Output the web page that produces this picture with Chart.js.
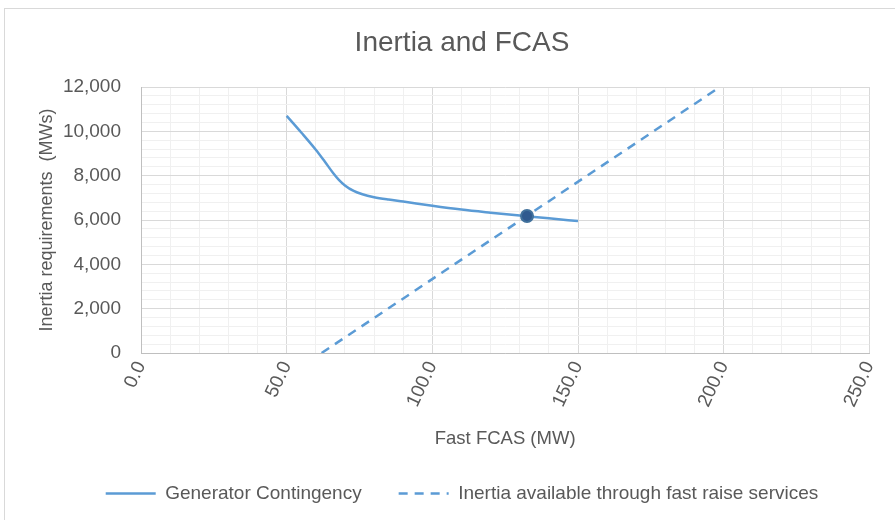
<!DOCTYPE html>
<html>
<head>
<meta charset="utf-8">
<title>Inertia and FCAS</title>
<script src="https://cdn.jsdelivr.net/npm/chart.js@4.4.0/dist/chart.umd.min.js"></script>
<style>
  html, body { margin: 0; padding: 0; background: #fff; }
  #wrap { position: relative; width: 895px; height: 520px; overflow: hidden; }
  #frame { position: absolute; left: 4px; top: 8px; width: 900px; height: 530px; border: 1px solid #d9d9d9; box-sizing: border-box; }
  #chart { position: absolute; left: 0; top: 0; }
</style>
</head>
<body>
<div id="wrap">
  <div id="frame"></div>
  <canvas id="chart" width="895" height="520"></canvas>
</div>
<script>
// Generator contingency curve (Fast FCAS MW vs inertia MWs)
var fcasMW = [50, 55, 60, 63, 66, 68, 70, 73, 76, 80, 85, 90, 100, 110, 120, 130, 140, 150];
var genInertia = [10700, 9950, 9170, 8650, 8110, 7800, 7560, 7310, 7160, 7030, 6920, 6830, 6640, 6470, 6330, 6200, 6080, 5950];

// inertia available through fast raise services (straight line)
var fastMW = [62, 198.7];
var fastInertia = [0, 12000];

// crossing point
var crossMW = [132.5];
var crossInertia = [6180];

var seriesNames = ['Generator Contingency', 'Inertia available through fast raise services'];

var blue = '#5B9BD5';
var textGrey = '#595959';

Chart.defaults.font.family = "'Liberation Sans', Arial, sans-serif";
Chart.defaults.color = textGrey;

function toPoints(xs, ys) {
  return xs.map(function (x, i) { return { x: x, y: ys[i] }; });
}

var ctx = document.getElementById('chart');
var myChart = new Chart(ctx, {
  type: 'line',
  data: {
    datasets: [{
      label: seriesNames[0],
      data: toPoints(fcasMW, genInertia),
      borderColor: blue,
      borderWidth: 2.5,
      pointRadius: 0,
      cubicInterpolationMode: 'monotone',
      fill: false,
      order: 1
    }, {
      label: seriesNames[1],
      data: toPoints(fastMW, fastInertia),
      borderColor: blue,
      borderWidth: 2.5,
      borderDash: [9, 7],
      pointRadius: 0,
      fill: false,
      order: 2
    }, {
      label: 'crossing',
      data: toPoints(crossMW, crossInertia),
      showLine: false,
      pointRadius: 6,
      pointBackgroundColor: '#2F5A8F',
      pointBorderColor: '#41719C',
      pointBorderWidth: 2,
      order: 0
    }]
  },
  options: {
    responsive: false,
    animation: false,
    layout: {
      padding: { left: 29, right: 0, top: 0, bottom: 7 }
    },
    scales: {
      x: {
        type: 'linear',
        min: 0,
        max: 250,
        afterFit: function (scale) { scale.height = 94; },
        ticks: {
          stepSize: 10,
          autoSkip: false,
          minRotation: 65,
          maxRotation: 65,
          padding: 5,
          font: { size: 19 },
          callback: function (value) {
            return value % 50 === 0 ? value.toFixed(1) : '';
          }
        },
        grid: {
          drawTicks: false,
          color: function (c) {
            return c.tick && c.tick.value % 50 === 0 ? '#d9d9d9' : '#f0f0f0';
          }
        },
        border: { color: '#bfbfbf' },
        title: {
          display: true,
          text: 'Fast FCAS (MW)',
          font: { size: 18.5 },
          padding: { top: 0, bottom: -3 }
        }
      },
      y: {
        min: 0,
        max: 12000,
        afterFit: function (scale) { scale.width = 112; },
        ticks: {
          stepSize: 400,
          autoSkip: false,
          padding: 20,
          font: { size: 19 },
          callback: function (value) {
            return value % 2000 === 0 ? value.toLocaleString('en-US') : '';
          }
        },
        grid: {
          drawTicks: false,
          color: function (c) {
            return c.tick && c.tick.value % 2000 === 0 ? '#d9d9d9' : '#f0f0f0';
          }
        },
        border: { color: '#bfbfbf' },
        title: {
          display: true,
          text: 'Inertia requirements  (MWs)',
          font: { size: 18 },
          padding: { top: 7, bottom: 0 }
        }
      },
      y2: {
        position: 'right',
        min: 0,
        max: 1,
        afterFit: function (scale) { scale.width = 22; },
        grid: { display: false },
        ticks: { display: false },
        border: { display: false }
      }
    },
    plugins: {
      tooltip: { enabled: false },
      title: {
        display: true,
        text: 'Inertia and FCAS',
        color: textGrey,
        font: { size: 28, weight: 'normal' },
        padding: { top: 26, bottom: 27.4 }
      },
      legend: {
        display: true,
        position: 'bottom',
        labels: {
          usePointStyle: true,
          pointStyle: 'line',
          pointStyleWidth: 50,
          padding: 37,
          font: { size: 19 },
          color: textGrey,
          generateLabels: function (chart) {
            return chart.data.datasets.slice(0, 2).map(function (ds, i) {
              return {
                text: ds.label,
                strokeStyle: ds.borderColor,
                fillStyle: ds.borderColor,
                lineWidth: ds.borderWidth,
                lineDash: ds.borderDash || [],
                lineCap: 'butt',
                pointStyle: 'line',
                fontColor: textGrey,
                hidden: false,
                datasetIndex: i
              };
            });
          }
        }
      }
    }
  }
});
</script>
</body>
</html>
